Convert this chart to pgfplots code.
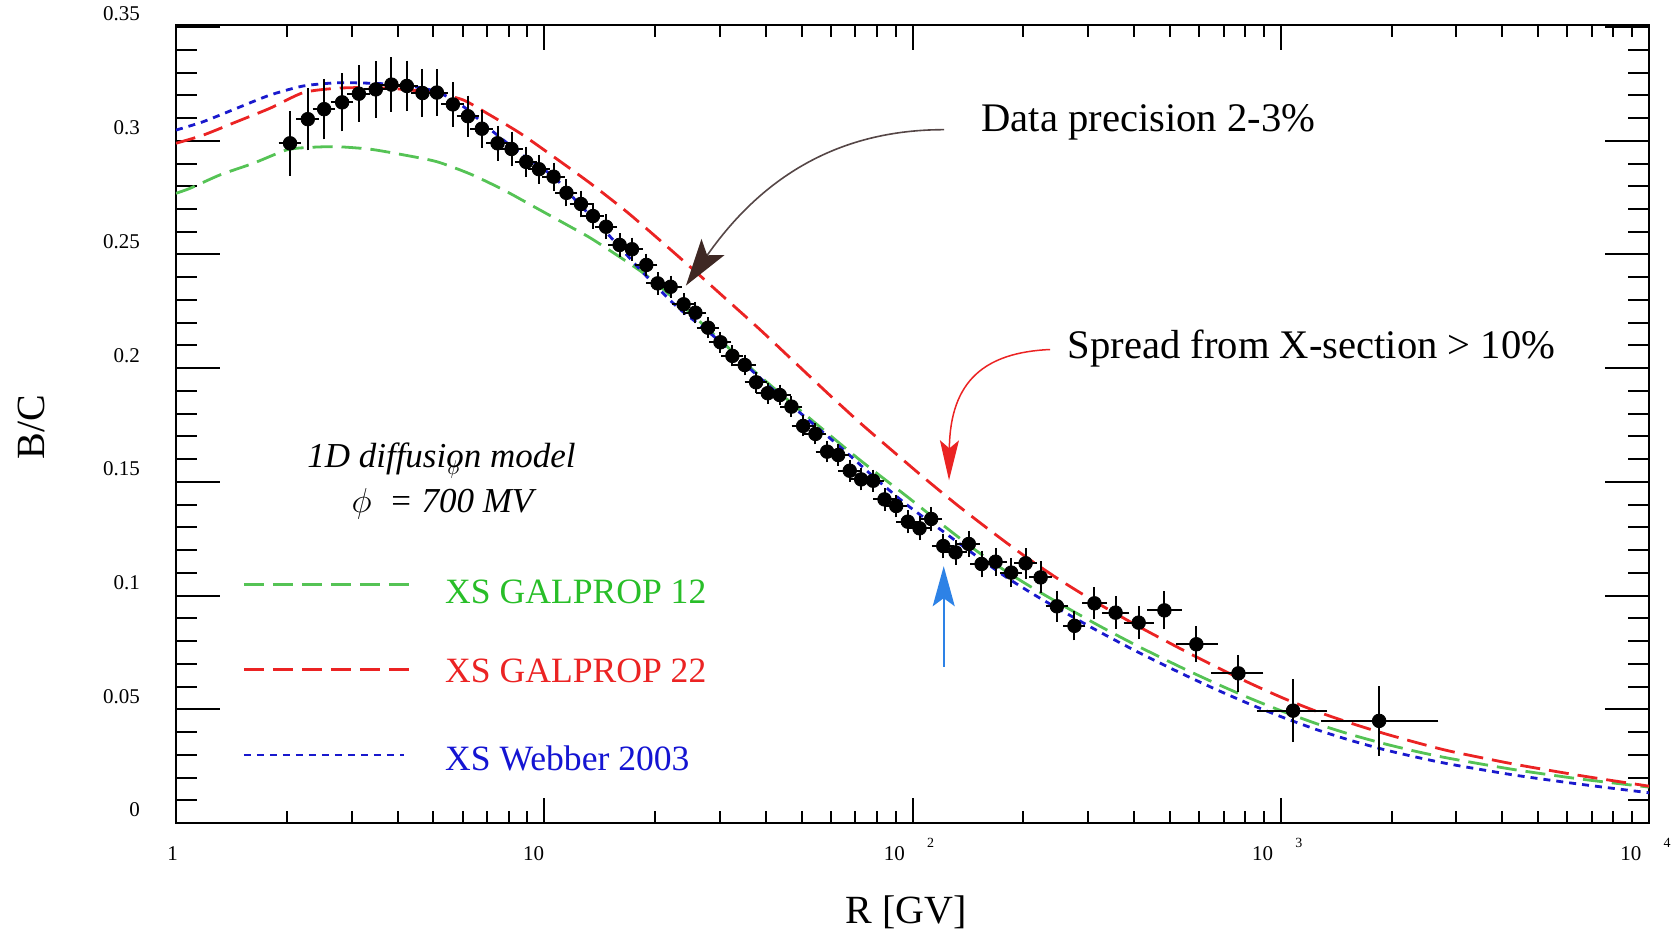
\documentclass[border=0pt]{standalone}
\usepackage{fontspec}
\setmainfont{Liberation Serif}
\usepackage{pgfplots}
\usepackage{pgfplotstable}
\pgfplotsset{compat=1.18}
\usetikzlibrary{arrows.meta}

\definecolor{cgreen}{RGB}{85,195,85}
\definecolor{cgreentxt}{RGB}{40,190,40}
\definecolor{cred}{RGB}{235,35,35}
\definecolor{cblue}{RGB}{25,25,205}
\definecolor{cbluetxt}{RGB}{20,20,210}
\definecolor{arrowline}{RGB}{85,70,70}
\definecolor{arrowhead}{RGB}{62,40,36}
\definecolor{arrowblue}{RGB}{45,130,230}

% model curves (R in GV, B/C)
\pgfplotstableread{
R v
1.000 0.2769
1.092 0.2791
1.317 0.2850
1.622 0.2901
2.000 0.2960
2.313 0.2971
2.734 0.2974
3.367 0.2963
4.147 0.2938
5.110 0.2908
6.295 0.2854
7.751 0.2784
9.554 0.2703
11.77 0.2622
13.61 0.2564
18.62 0.2417
24.42 0.2256
38.64 0.1963
69.28 0.1618
96.74 0.1435
119.2 0.1318
146.8 0.1205
180.9 0.1103
222.8 0.1013
312.4 0.0878
411.3 0.0776
545.0 0.0679
674.3 0.0610
828.9 0.0547
1019 0.0489
1260 0.0435
1550 0.0389
1905 0.0349
2357 0.0313
2897 0.0283
4297 0.0235
6535 0.0193
10000 0.0158
}\galproptwelve

\pgfplotstableread{
R v
1.000 0.2989
1.186 0.3025
1.462 0.3084
1.80 0.3143
2.218 0.3212
2.734 0.3231
3.367 0.3234
4.147 0.3226
5.110 0.3209
6.036 0.3179
6.988 0.3121
8.606 0.3033
10.60 0.2930
13.34 0.2813
16.77 0.2687
20.66 0.2561
25.45 0.2432
31.37 0.2300
38.64 0.2168
47.60 0.2030
58.64 0.1892
72.24 0.1758
87.15 0.1644
107.3 0.1519
132.3 0.1398
162.9 0.1285
200.7 0.1176
247.7 0.1075
312.4 0.0974
411.3 0.0864
545.0 0.0759
674.3 0.0683
828.9 0.0613
1019 0.0548
1260 0.0489
1550 0.0439
1905 0.0394
2357 0.0352
2897 0.0315
4297 0.0259
6535 0.0208
10000 0.0162
}\galproptwentytwo

\pgfplotstableread{
R v
1.000 0.3047
1.186 0.3084
1.462 0.3143
1.80 0.3201
2.218 0.3241
2.734 0.3255
3.367 0.3253
4.147 0.3245
5.110 0.3216
6.036 0.3150
6.988 0.3062
8.606 0.2945
10.60 0.2842
12.27 0.2732
15.11 0.2578
18.62 0.2417
22.94 0.2270
28.26 0.2153
34.80 0.2022
42.89 0.1890
52.83 0.1765
65.06 0.1640
78.48 0.1522
96.74 0.1398
119.2 0.1290
146.8 0.1182
180.9 0.1078
222.8 0.0987
312.4 0.0852
411.3 0.0750
545.0 0.0653
674.3 0.0584
828.9 0.0521
1019 0.0463
1260 0.0409
1550 0.0363
1905 0.0323
2357 0.0288
2897 0.0258
4297 0.0211
6535 0.0170
10000 0.0133
}\webber

% data, low rigidity (x error +-5%)
\pgfplotstableread{
R v dy
2.04 0.2989 0.0128
2.28 0.3095 0.0123
2.525 0.3139 0.0119
2.826 0.3169 0.0114
3.137 0.3207 0.0110
3.488 0.3226 0.0110
3.847 0.3247 0.0106
4.236 0.3241 0.0097
4.670 0.3210 0.0092
5.110 0.3212 0.0088
5.648 0.3160 0.0084
6.205 0.3108 0.0077
6.771 0.3053 0.0070
7.468 0.2989 0.0062
8.150 0.2964 0.0062
8.935 0.2907 0.0053
9.674 0.2875 0.0050
10.60 0.2842 0.0048
11.49 0.2771 0.0045
12.58 0.2722 0.0045
13.56 0.2669 0.0042
14.72 0.2622 0.0040
16.02 0.2542 0.0038
17.31 0.2523 0.0037
18.93 0.2454 0.0036
20.32 0.2373 0.0035
22.04 0.2358 0.0035
23.90 0.2281 0.0034
25.73 0.2244 0.0033
27.86 0.2178 0.0033
30.09 0.2114 0.0032
32.43 0.2054 0.0032
35.03 0.2014 0.0032
37.61 0.1938 0.0032
40.45 0.1890 0.0032
43.60 0.1882 0.0032
46.91 0.1831 0.0032
50.47 0.1746 0.0032
54.51 0.1711 0.0032
58.64 0.1633 0.0033
62.84 0.1618 0.0033
67.55 0.1549 0.0034
72.54 0.1511 0.0034
78.19 0.1505 0.0035
83.94 0.1423 0.0035
90.31 0.1394 0.0036
97.10 0.1325 0.0037
104.5 0.1296 0.0038
112.4 0.1337 0.0039
121.2 0.1218 0.0040
130.9 0.1190 0.0041
142.2 0.1227 0.0043
154.0 0.1139 0.0045
168.1 0.1149 0.0047
185.4 0.1101 0.0050
202.8 0.1142 0.0053
222.8 0.1080 0.0056
246.7 0.0953 0.0055
275.3 0.0867 0.0050
}\bclow

% data, high rigidity (asymmetric x errors)
\pgfplotstableread{
R v xp xm dy
311.9 0.0966 18.1 17.2 0.0057
356.1 0.0925 24.2 22.6 0.0057
411.3 0.0881 31.3 29.2 0.0058
483.1 0.0935 44.2 40.5 0.0069
590.0 0.0786 71.7 60.8 0.0065
767.6 0.0658 111.1 108.8 0.0067
1080 0.0494 232 201.3 0.0124
1850 0.0449 777 538 0.0139
}\bchigh

\begin{document}
\begin{tikzpicture}
\useasboundingbox (0,0) rectangle (836pt,466.5pt);
\begin{axis}[
    at={(88pt,55pt)}, anchor=south west,
    scale only axis, width=736.5pt, height=399.1pt,
    xmode=log, xmin=1, xmax=10000,
    ymin=0, ymax=0.351,
    clip mode=individual,
    axis line style={line width=1pt},
    every tick/.style={black, line width=1pt},
    major tick length=22pt, minor tick length=10.5pt,
    xtick style={/pgfplots/major tick length=12.5pt, /pgfplots/minor tick length=6pt},
    xtick={1,10,100,1000,10000},
    minor xtick={2,3,4,5,6,7,8,9,20,30,40,50,60,70,80,90,200,300,400,500,600,700,800,900,2000,3000,4000,5000,6000,7000,8000,9000},
    xticklabels={{1\kern3.3pt},{10\kern10.6pt},
      {10\kern11.1pt\raisebox{6.4pt}{\fontsize{7}{8}\selectfont 2}\kern3.5pt},
      {10\kern11.1pt\raisebox{6.4pt}{\fontsize{7}{8}\selectfont 3}\kern3.5pt},
      {10\kern11.1pt\raisebox{6.4pt}{\fontsize{7}{8}\selectfont 4}\kern3.5pt}},
    ytick={0,0.05,0.1,0.15,0.2,0.25,0.3,0.35},
    yticklabels={0,0.05,0.1,0.15,0.2,0.25,0.3,0.35},
    minor y tick num=4,
    ticklabel style={font=\fontsize{10.5}{12}\selectfont},
    xticklabel style={anchor=base, yshift=-18.5pt},
    yticklabel style={anchor=east, xshift=-14.5pt, yshift=6.5pt},
    xlabel={R [GV]},
    xlabel style={font=\fontsize{20}{24}\selectfont, at={(axis description cs:0.4956,-0.1114)}, anchor=center},
    ylabel={B/C},
    ylabel style={font=\fontsize{20}{24}\selectfont, at={(axis description cs:-0.0978,0.4956)}, anchor=center},
  ]
  \addplot[cgreen, line width=1.4pt, dash pattern=on 10pt off 4.5pt, smooth, tension=0.4] table[x=R, y=v] {\galproptwelve};
  \addplot[cred, line width=1.4pt, dash pattern=on 10pt off 4.5pt, smooth, tension=0.4] table[x=R, y=v] {\galproptwentytwo};
  \addplot[cblue, line width=1.4pt, dash pattern=on 3.5pt off 3pt, smooth, tension=0.4] table[x=R, y=v] {\webber};

  \addplot[black, only marks, mark=*, mark size=3.4pt,
    error bars/.cd, x dir=both, x fixed relative=0.05, y dir=both, y explicit,
    error bar style={line width=1pt, black}, error mark options={line width=1pt, mark size=1.6pt, black}]
    table[x=R, y=v, y error=dy] {\bclow};
  \addplot[black, only marks, mark=*, mark size=3.4pt,
    error bars/.cd, x dir=both, x explicit, y dir=both, y explicit,
    error bar style={line width=1pt, black}, error mark options={line width=1pt, mark size=1.6pt, black}]
    table[x=R, y=v, x error plus=xp, x error minus=xm, y error=dy] {\bchigh};

  % annotations
  \draw[arrowline, line width=0.8pt, -{Stealth[length=23.5pt, width=14pt, inset=5pt, color=arrowhead, fill=arrowhead]}]
    (rel axis cs:0.5214,0.8686) .. controls (rel axis cs:0.4413,0.8686) and (rel axis cs:0.3922,0.7944) .. (rel axis cs:0.3462,0.6733);
  \draw[cred, line width=0.75pt, -{Stealth[length=20pt, width=9.5pt, inset=4pt]}]
    (rel axis cs:0.5934,0.5932) .. controls (rel axis cs:0.5492,0.5895) and (rel axis cs:0.5255,0.5544) .. (rel axis cs:0.5248,0.4293);
  \draw[arrowblue, line width=1pt, -{Stealth[length=20pt, width=11pt, inset=4pt]}]
    (rel axis cs:0.5212,0.1959) -- (rel axis cs:0.5212,0.3217);

  \node[anchor=west, inner sep=0pt, font=\fontsize{20.3}{24}\selectfont] at (rel axis cs:0.5465,0.8778) {Data precision 2-3\%};
  \node[anchor=west, inner sep=0pt, font=\fontsize{20.3}{24}\selectfont] at (rel axis cs:0.6052,0.5950) {Spread from X-section > 10\%};

  \node[inner sep=0pt, font=\fontsize{17.5}{21}\selectfont\itshape] at (rel axis cs:0.1802,0.4562) {1D diffusion model};
  \node[inner sep=0pt, font=\fontsize{10}{12}\selectfont] at (rel axis cs:0.1882,0.4428) {$\phi$};
  \node[inner sep=0pt, font=\fontsize{17.5}{21}\selectfont\itshape] at (rel axis cs:0.1809,0.4001) {$\phi$\ \ = 700 MV};

  % legend
  \draw[cgreen, line width=1.4pt, dash pattern=on 10pt off 4.5pt] (rel axis cs:0.0460,0.2987) -- (rel axis cs:0.1585,0.2987);
  \node[anchor=west, inner sep=0pt, text=cgreentxt, font=\fontsize{17.8}{21}\selectfont] at (rel axis cs:0.1825,0.2894) {XS GALPROP 12};
  \draw[cred, line width=1.4pt, dash pattern=on 10pt off 4.5pt] (rel axis cs:0.0460,0.1920) -- (rel axis cs:0.1585,0.1920);
  \node[anchor=west, inner sep=0pt, text=cred, font=\fontsize{17.8}{21}\selectfont] at (rel axis cs:0.1825,0.1900) {XS GALPROP 22};
  \draw[cblue, line width=1.4pt, dash pattern=on 3.5pt off 3pt] (rel axis cs:0.0460,0.0851) -- (rel axis cs:0.1547,0.0851);
  \node[anchor=west, inner sep=0pt, text=cbluetxt, font=\fontsize{17.8}{21}\selectfont] at (rel axis cs:0.1825,0.0810) {XS Webber 2003};
\end{axis}
\end{tikzpicture}
\end{document}
